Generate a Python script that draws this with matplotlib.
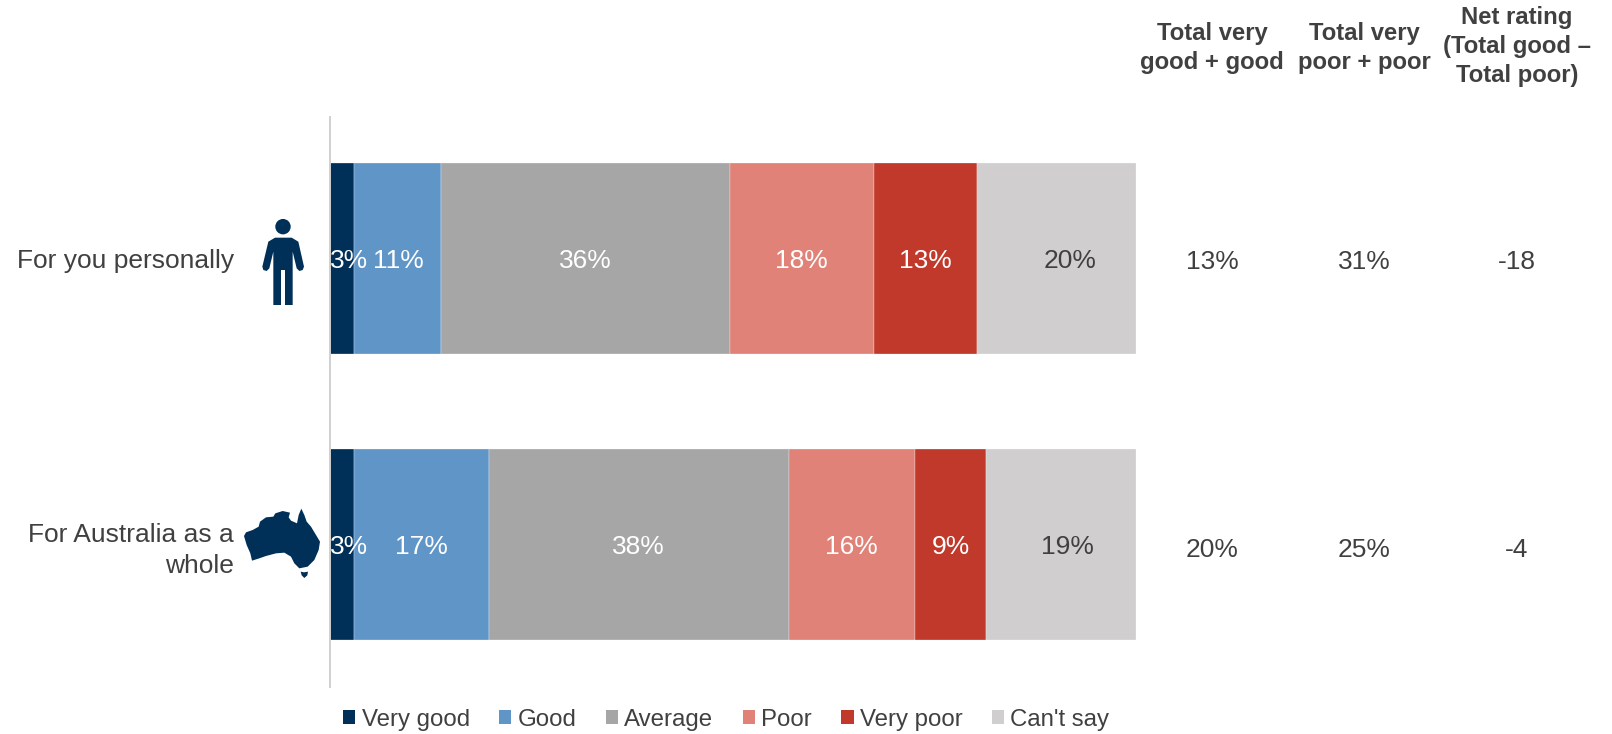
import matplotlib
matplotlib.use("Agg")
import matplotlib.pyplot as plt
from matplotlib.patches import Polygon, Circle
from matplotlib.transforms import Affine2D

plt.rcParams['font.family'] = ['Liberation Sans', 'DejaVu Sans']

W, H = 1612, 734
TEXT = '#404040'

categories = ['For you personally', 'For Australia as a\nwhole']
series = ['Very good', 'Good', 'Average', 'Poor', 'Very poor', "Can't say"]
colors = ['#003057', '#6095C8', '#A6A6A6', '#E08277', '#C0392B', '#D0CECE']
very_good = [3.0, 3.0]
good = [10.8, 16.7]
average = [35.8, 37.2]
poor = [17.9, 15.7]
very_poor = [12.8, 8.8]
cant_say = [19.7, 18.6]
values = [very_good, good, average, poor, very_poor, cant_say]
labels_very_good = ['3%', '3%']
labels_good = ['11%', '17%']
labels_average = ['36%', '38%']
labels_poor = ['18%', '16%']
labels_very_poor = ['13%', '9%']
labels_cant_say = ['20%', '19%']
seg_labels = [labels_very_good, labels_good, labels_average, labels_poor, labels_very_poor, labels_cant_say]
label_colors = ['white', 'white', 'white', 'white', 'white', TEXT]

col_headers = ['Total very\ngood + good', 'Total very\npoor + poor', 'Net rating\n(Total good –\nTotal poor)']
col_total_good = ['13%', '20%']
col_total_poor = ['31%', '25%']
col_net = ['-18', '-4']
columns = [col_total_good, col_total_poor, col_net]

fig = plt.figure(figsize=(W / 100, H / 100), dpi=100, facecolor='white')
ax = fig.add_axes([330 / W, 1 - 687 / H, 806 / W, 570 / H])
ax.set_xlim(0, 100)
ax.set_ylim(1.498, -0.495)

# horizontal nudges of the in-bar labels, in data units, per series then row
label_shift = [[0, 0], [0.1, 0], [0, 0], [-0.1, -0.1], [0, 0], [1.7, 0.8]]

handles = []
lefts = [0.0, 0.0]
for i, (name, vals, col) in enumerate(zip(series, values, colors)):
    bars = ax.barh([0, 1], vals, left=lefts, height=0.668, color=col, label=name,
                   edgecolor='white', linewidth=0.2)
    handles.append(bars)
    for j, v in enumerate(vals):
        if i == 0:
            ax.text(0.0, j + 0.01, seg_labels[i][j], ha='left', va='center', color=label_colors[i],
                    fontsize=19, zorder=5)
        else:
            ax.text(lefts[j] + v / 2 + label_shift[i][j], j + 0.01, seg_labels[i][j], ha='center',
                    va='center', color=label_colors[i], fontsize=19, zorder=5)
    lefts = [a + b for a, b in zip(lefts, vals)]

for s in ['top', 'right', 'bottom']:
    ax.spines[s].set_visible(False)
ax.spines['left'].set_color('#D0D0D0')
ax.spines['left'].set_linewidth(1.4)
ax.xaxis.set_visible(False)
ax.set_yticks([0, 1])
ax.set_yticklabels(categories, fontsize=19, color=TEXT, ha='right', linespacing=1.36)
ax.tick_params(axis='y', length=0, pad=69)

px = Affine2D().scale(1, -1).translate(0, H)

col_x = [1212, 1364, 1517]
col_y = [262, 550]
head_bottom = [74, 74, 87]
for x, head, col, hb in zip(col_x, col_headers, columns, head_bottom):
    fig.text(x, H - hb, head, transform=None, ha='center', va='bottom', fontsize=17.2,
             fontweight='bold', color=TEXT, linespacing=1.32)
    for y, t in zip(col_y, col):
        fig.text(x, H - y, t, transform=None, ha='center', va='center', fontsize=19, color=TEXT)

NAVY = '#003057'
def z(pts, ox, oy):
    return [(ox + a / 3, oy + b / 3) for a, b in pts]

person = z([(55, 95), (75, 83), (125, 83), (145, 95), (162, 170), (158, 180), (148, 183), (140, 175),
            (128, 125), (128, 285), (105, 285), (105, 180), (93, 180), (93, 285), (70, 285), (70, 125),
            (58, 175), (50, 183), (40, 180), (37, 170)], 250, 210)
aus = z([(24, 108), (30, 97), (50, 90), (68, 80), (72, 65), (90, 52), (112, 50), (118, 40), (140, 33),
         (162, 38), (158, 52), (165, 62), (183, 70), (188, 45), (196, 26), (205, 45), (212, 65),
         (225, 80), (240, 105), (252, 125), (248, 150), (235, 180), (215, 200), (190, 205), (175, 190),
         (165, 170), (145, 158), (120, 160), (90, 168), (70, 175), (48, 182), (43, 160), (32, 135)],
        236, 500)
tas = z([(194, 215), (204, 217), (216, 215), (214, 226), (205, 234), (197, 226)], 236, 500)
for pts in (person, aus, tas):
    fig.add_artist(Polygon(pts, closed=True, facecolor=NAVY, edgecolor='none', transform=px))
fig.add_artist(Circle((250 + 99 / 3, 210 + 50 / 3), 7.7, facecolor=NAVY, edgecolor='none', transform=px))

leg = ax.legend(handles=handles, labels=series, ncol=6, loc='center left', frameon=False,
                bbox_to_anchor=((343 - 330) / 806, (687 - 720) / 570), borderaxespad=0, borderpad=0,
                fontsize=17.3, labelcolor=TEXT, handlelength=0.52, handleheight=0.52,
                handletextpad=0.25, columnspacing=1.22)
for p in leg.get_patches():
    p.set_linewidth(0)

fig.savefig('out.png', dpi=100)
